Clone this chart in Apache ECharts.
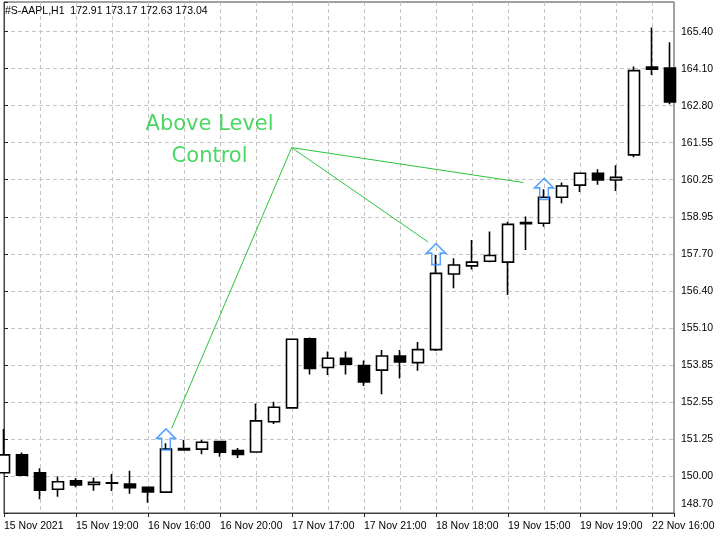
<!DOCTYPE html>
<html><head><meta charset="utf-8">
<script src="https://cdn.jsdelivr.net/npm/echarts@6/dist/echarts.min.js"></script>
<style>html,body{margin:0;padding:0;background:#fff}#c{width:720px;height:540px}</style>
</head><body><div id="c"></div>
<script>
// ---- data ----
const symbolName = '#S-AAPL,H1';
const headerValues = ['172.91', '173.17', '172.63', '173.04'];

const candleTimes = [
  '15 Nov 15:00','15 Nov 16:00','15 Nov 17:00','15 Nov 18:00','15 Nov 19:00','15 Nov 20:00','15 Nov 21:00','15 Nov 22:00',
  '16 Nov 16:00','16 Nov 17:00','16 Nov 18:00','16 Nov 19:00','16 Nov 20:00','16 Nov 21:00','16 Nov 22:00',
  '17 Nov 16:00','17 Nov 17:00','17 Nov 18:00','17 Nov 19:00','17 Nov 20:00','17 Nov 21:00','17 Nov 22:00',
  '18 Nov 16:00','18 Nov 17:00','18 Nov 18:00','18 Nov 19:00','18 Nov 20:00','18 Nov 21:00',
  '19 Nov 15:00','19 Nov 16:00','19 Nov 17:00','19 Nov 18:00','19 Nov 19:00','19 Nov 20:00','19 Nov 21:00','19 Nov 22:00',
  '22 Nov 16:00','22 Nov 17:00'
];
const openP  = [150.11,150.73,150.11,149.54,149.83,149.71,149.75,149.72,149.61,149.44,150.90,150.93,151.19,150.88,150.83,151.88,152.36,154.75,153.76,154.08,153.83,153.67,154.16,153.93,154.38,157.00,157.28,157.44,157.41,158.78,158.76,159.66,160.08,160.49,160.26,161.13,164.17,164.14];
const closeP = [150.73,150.03,149.51,149.80,149.69,149.78,149.76,149.59,149.45,150.93,150.95,151.17,150.82,150.75,151.91,152.38,154.74,153.73,154.08,153.87,153.26,154.16,153.95,154.38,157.02,157.31,157.41,157.64,158.72,158.74,159.66,160.05,160.49,160.26,160.35,164.05,164.10,162.96];
const lowP   = [150.10,150.00,149.19,149.28,149.61,149.49,149.48,149.38,149.07,149.43,150.88,150.75,150.67,150.62,150.83,151.80,152.35,153.52,153.50,153.52,153.12,152.83,153.38,153.65,154.33,156.51,157.16,157.41,156.27,157.83,158.64,159.45,159.84,160.09,159.88,161.05,163.90,162.88];
const highP  = [151.63,150.81,150.27,149.98,149.92,149.95,150.07,150.18,149.63,151.13,151.25,151.25,151.22,150.97,152.51,152.57,154.75,154.80,154.31,154.31,154.00,154.37,154.37,154.64,157.66,157.55,158.18,158.47,158.81,158.99,159.94,160.17,160.49,160.63,160.77,164.19,165.54,165.03];

const xTickLabels = ['15 Nov 2021','15 Nov 19:00','16 Nov 16:00','16 Nov 20:00','17 Nov 17:00','17 Nov 21:00','18 Nov 18:00','19 Nov 15:00','19 Nov 19:00','22 Nov 16:00'];
const yTickLabels = ['148.70','150.00','151.25','152.55','153.85','155.10','156.40','157.70','158.95','160.25','161.55','162.80','164.10','165.40'];

const signalIndex = [9, 24, 30];
const signalPrice = [151.27, 157.69, 159.95];

const noteText = ['Above Level', 'Control'];
const noteAnchor = [11.42, 161.61];
const lineApex = [15.98, 161.38];
const lineEnds = [[9.32, 151.66], [23.56, 158.11], [28.85, 160.17]];

// ---- build ----
const STEP = (parseFloat(yTickLabels[13]) - parseFloat(yTickLabels[1])) / 12;
const stepMax = 13.8;
const priceMin = parseFloat(yTickLabels[1]) - STEP;
const priceMax = priceMin + stepMax * STEP;
const xMax = 37.22;

const ohlc = openP.map((o, i) => [i, o, closeP[i], lowP[i], highP[i]]);
const arrows = signalIndex.map((x, i) => [x, signalPrice[i]]);

const FONT = 'Liberation Sans';
const gridLine = { color: '#c4c4c4', type: [4, 3], width: 1 };

const chart = echarts.init(document.getElementById('c'), null, { renderer: 'canvas' });
chart.setOption({
  animation: false,
  backgroundColor: '#fff',
  title: {
    text: symbolName + '  ' + headerValues.join(' '),
    left: 5, top: 6, padding: 0,
    textStyle: { fontFamily: FONT, fontSize: 10.5, fontWeight: 'normal', color: '#000' }
  },
  grid: { left: 4, right: 46, top: 2, bottom: 27, show: true, borderColor: '#444', borderWidth: 1, backgroundColor: '#fff' },
  xAxis: [
    {
      type: 'value', position: 'top', min: 0, max: xMax, interval: 2,
      axisLine: { show: false }, axisTick: { show: false }, axisLabel: { show: false },
      splitLine: { show: true, showMinLine: false, showMaxLine: false, lineStyle: gridLine }
    },
    {
      type: 'value', position: 'bottom', min: 0, max: xMax, interval: 4,
      axisLine: { show: true, lineStyle: { color: '#444', width: 1 } },
      axisTick: { show: true, length: 4, lineStyle: { color: '#222', width: 1 } },
      splitLine: { show: false },
      axisLabel: {
        align: 'left', margin: 8, fontFamily: FONT, fontSize: 10.5, color: '#000',
        formatter: v => {
          const r = Math.round(v);
          if (Math.abs(v - r) > 1e-6 || r % 4 !== 0) return '';
          return xTickLabels[r / 4] || '';
        }
      }
    }
  ],
  yAxis: [
    { type: 'value', position: 'left', min: priceMin, max: priceMax, show: false, splitLine: { show: false } },
    {
      type: 'value', position: 'right', min: 0, max: stepMax, interval: 1,
      axisLine: { show: true, lineStyle: { color: '#444', width: 1 } },
      axisTick: { show: true, length: 4, lineStyle: { color: '#222', width: 1 } },
      splitLine: { show: true, showMinLine: false, showMaxLine: false, lineStyle: gridLine },
      axisLabel: {
        margin: 7, fontFamily: FONT, fontSize: 10.5, color: '#000', align: 'left',
        formatter: v => {
          const r = Math.round(v);
          if (Math.abs(v - r) > 1e-6) return '';
          if (r === 0) return '{lo|' + yTickLabels[0] + '}';
          return yTickLabels[r] || '';
        },
        rich: { lo: { padding: [0, 0, 18, 0], fontFamily: FONT, fontSize: 10.5, color: '#000' } }
      }
    }
  ],
  series: [
    {
      type: 'candlestick', xAxisIndex: 0, yAxisIndex: 0, clip: true,
      data: ohlc, encode: { x: 0, y: [1, 2, 3, 4] },
      barWidth: 11,
      itemStyle: { color: '#fff', color0: '#000', borderColor: '#000', borderColor0: '#000', borderWidth: 1.6 }
    },
    {
      type: 'scatter', xAxisIndex: 0, yAxisIndex: 0, z: 5,
      data: arrows,
      symbol: 'path://M10,0 L20,10 L14.5,10 L14.5,22 L5.5,22 L5.5,10 L0,10 Z',
      symbolSize: [19, 21],
      itemStyle: { color: 'rgba(0,0,0,0)', borderColor: '#2f8cff', borderWidth: 1.6 },
      silent: true
    },
    {
      type: 'scatter', xAxisIndex: 0, yAxisIndex: 0, z: 6,
      data: [noteAnchor], symbolSize: 1,
      itemStyle: { color: 'rgba(0,0,0,0)' },
      label: {
        show: true, position: 'inside', formatter: noteText.join('\n'),
        fontFamily: 'DejaVu Sans', fontSize: 21, lineHeight: 32, color: '#1fcc3c', align: 'center'
      },
      markLine: {
        silent: true, symbol: ['none', 'none'], animation: false,
        label: { show: false },
        lineStyle: { color: '#2ac43a', width: 1, type: 'solid' },
        data: lineEnds.map(e => [{ coord: lineApex }, { coord: e }])
      }
    }
  ]
});
</script>
</body></html>
